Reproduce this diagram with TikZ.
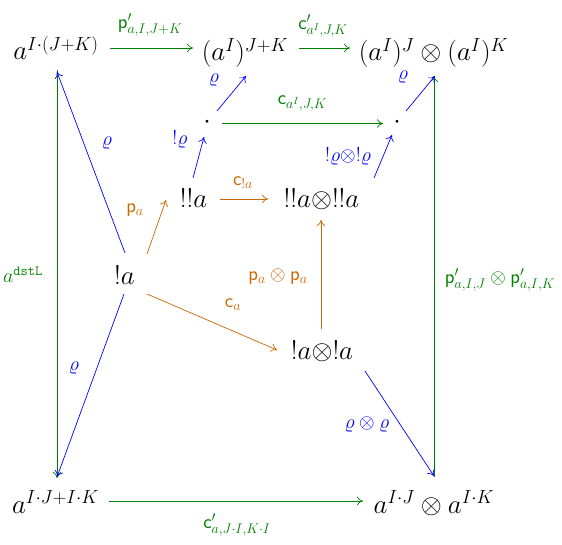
\RequirePackage{fix-cm}
\documentclass[tikz,border=0pt]{standalone}
\usetikzlibrary{arrows.meta}
\definecolor{cgreen}{rgb}{0,0.5,0}
\definecolor{corange}{rgb}{0.8,0.4,0}
\definecolor{cblue}{rgb}{0,0,1}
\tikzset{
  obj/.style={anchor=base, inner sep=0pt, font=\fontsize{27}{32}\selectfont},
  arr/.style={-{To[length=6pt,width=8.5pt]}, line width=0.7pt},
  garr/.style={arr, cgreen},
  oarr/.style={arr, corange},
  barr/.style={arr, cblue},
  lbl/.style={midway, inner sep=0pt, font=\fontsize{20}{24}\selectfont},
}
\begin{document}
\begin{tikzpicture}[x=1pt,y=-1pt]
\useasboundingbox (0,0) rectangle (562,545);
% objects
\node[obj] (A) at (56,60) {$a^{I\cdot(J+K)}$};
\node[obj] (B) at (245,61) {$(a^{I})^{J+K}$};
\node[obj] (C) at (433.5,61) {$(a^{I})^{J}\otimes(a^{I})^{K}$};
\node[obj] (D1) at (207,129) {$\cdot$};
\node[obj] (D2) at (397,129) {$\cdot$};
\node[obj] (E) at (193.5,208) {$!!a$};
\node[obj] (F) at (321.5,208) {$!!a\otimes!!a$};
\node[obj] (G) at (124.5,284) {$!a$};
\node[obj] (H) at (322,359) {$!a\otimes!a$};
\node[obj] (L) at (55.5,513) {$a^{I\cdot J+I\cdot K}$};
\node[obj] (M) at (434,513) {$a^{I\cdot J}\otimes a^{I\cdot K}$};
% green arrows
\draw[garr] ([shift={(54,-12)}]A.base) -- ([shift={(-52,-13)}]B.base)
  node[lbl, xshift=-1.5pt, yshift=23pt] {$\mathsf{p}'_{a,I,J+K}$};
\draw[garr] ([shift={(54,-13)}]B.base) -- ([shift={(-83.5,-13)}]C.base)
  node[lbl, xshift=-1.5pt, yshift=22pt] {$\mathsf{c}'_{a^{I},J,K}$};
\draw[garr] ([shift={(15,-5.5)}]D1.base) -- ([shift={(-14,-5.5)}]D2.base)
  node[lbl, yshift=19.5pt] {$\mathsf{c}_{a^{I},J,K}$};
\draw[garr] ([shift={(1,10)}]A.base) -- ([shift={(1.5,-35)}]L.base)
  node[lbl, xshift=-34pt, yshift=-1pt] {$a^{\mathtt{dstL}}$};
\draw[garr] ([shift={(0,-36)}]M.base) -- ([shift={(0.5,15)}]C.base)
  node[lbl, xshift=66pt, yshift=-3.5pt] {$\mathsf{p}'_{a,I,J}\otimes\mathsf{p}'_{a,I,K}$};
\draw[garr] ([shift={(53.5,-12)}]L.base) -- ([shift={(-71,-12)}]M.base)
  node[lbl, xshift=1pt, yshift=-24pt] {$\mathsf{c}'_{a,J\cdot I,K\cdot I}$};
% blue arrows
\draw[barr] ([shift={(0.5,-31)}]G.base) -- ([shift={(1,12)}]A.base)
  node[lbl, xshift=16pt, yshift=19.5pt] {$\varrho$};
\draw[barr] ([shift={(10,-18)}]D1.base) -- ([shift={(1,15)}]B.base)
  node[lbl, xshift=-17.5pt, yshift=13.5pt] {$\varrho$};
\draw[barr] ([shift={(9,-18)}]D2.base) -- ([shift={(1.5,15)}]C.base)
  node[lbl, xshift=-17.5pt, yshift=16.5pt] {$\varrho$};
\draw[barr] ([shift={(-0.5,-30)}]E.base) -- ([shift={(-3,8)}]D1.base)
  node[lbl, xshift=-18.5pt, yshift=17.5pt] {$!\varrho$};
\draw[barr] ([shift={(52.5,-30)}]F.base) -- ([shift={(-5,6)}]D2.base)
  node[lbl, xshift=-35pt, yshift=-0.5pt] {$!\varrho\otimes!\varrho$};
\draw[barr] ([shift={(-0.5,10)}]G.base) -- ([shift={(1.5,-36)}]L.base)
  node[lbl, xshift=-16.5pt, yshift=17.5pt] {$\varrho$};
\draw[barr] ([shift={(43,12)}]H.base) -- ([shift={(0,-37)}]M.base)
  node[lbl, xshift=-32.5pt, yshift=-1.5pt] {$\varrho\otimes\varrho$};
% orange arrows
\draw[oarr] ([shift={(22.5,-30)}]G.base) -- ([shift={(-27.5,-8)}]E.base)
  node[lbl, xshift=-21.5pt, yshift=17pt] {$\mathsf{p}_{a}$};
\draw[oarr] ([shift={(26.5,-9)}]E.base) -- ([shift={(-53.5,-9)}]F.base)
  node[lbl, xshift=-1pt, yshift=16pt] {$\mathsf{c}_{!a}$};
\draw[oarr] ([shift={(-1,-30)}]H.base) -- ([shift={(-0.5,12)}]F.base)
  node[lbl, xshift=-43pt, yshift=-2.5pt] {$\mathsf{p}_{a}\otimes\mathsf{p}_{a}$};
\draw[oarr] ([shift={(22.5,10)}]G.base) -- ([shift={(-45,-9)}]H.base)
  node[lbl, xshift=21pt, yshift=17pt] {$\mathsf{c}_{a}$};
\end{tikzpicture}
\end{document}
